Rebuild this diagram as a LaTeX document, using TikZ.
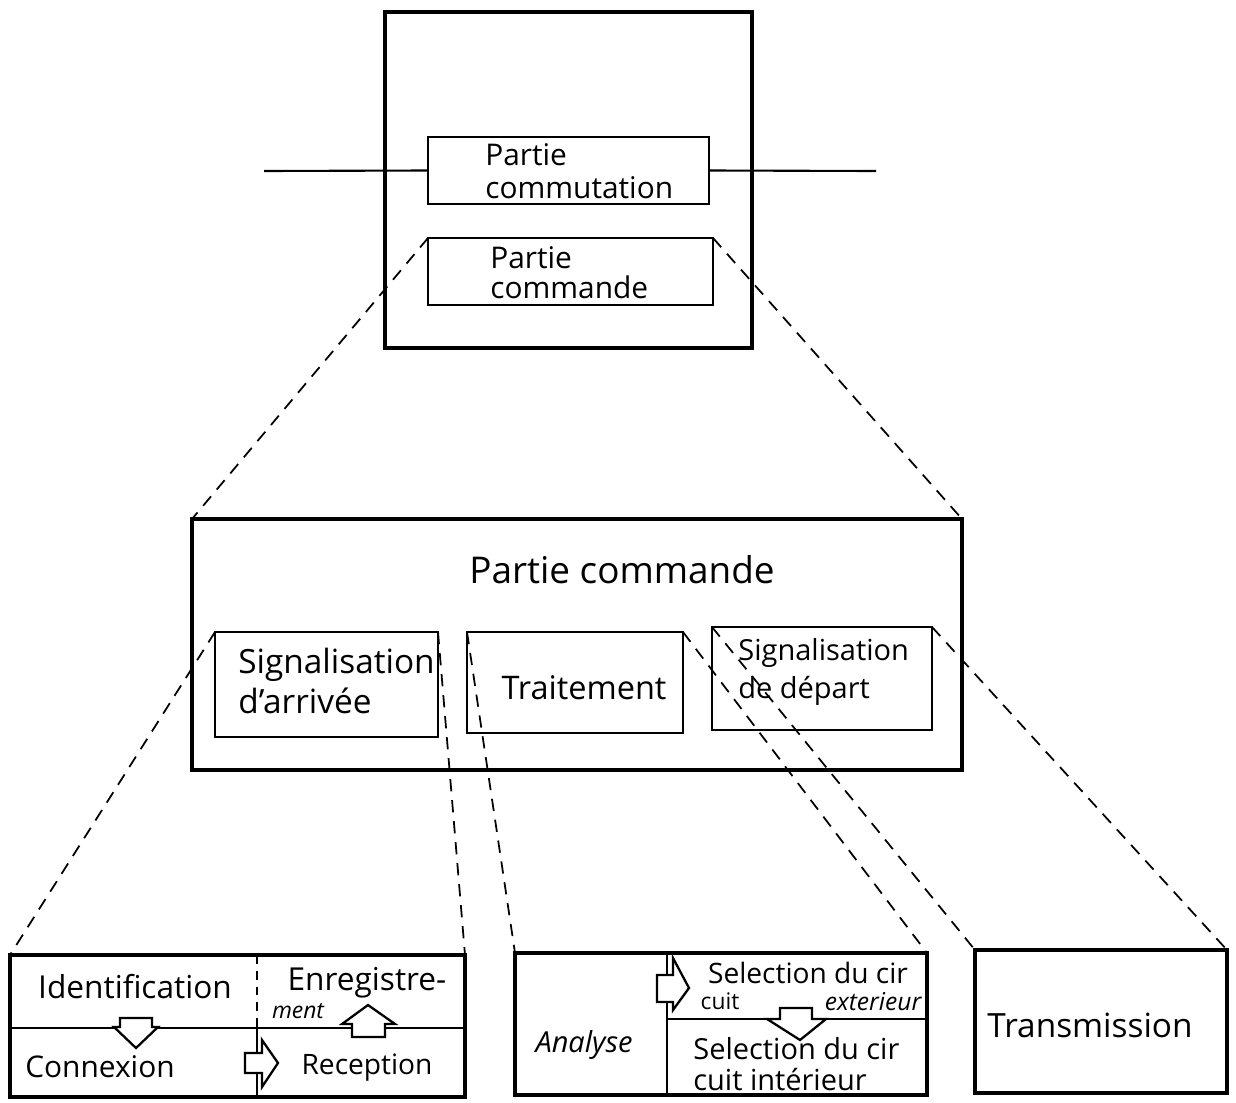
\documentclass[tikz,border=0pt]{standalone}
\usepackage{fontspec}
\setmainfont{Open Sans}
\usetikzlibrary{fit}
\begin{document}
\begin{tikzpicture}[x=0.02cm, y=-0.02cm,
  bigbox/.style={draw, line width=1.8pt, inner sep=0pt, outer sep=0pt},
  smallbox/.style={draw, line width=1.3pt, inner sep=0pt, outer sep=0pt},
  divider/.style={line width=1.3pt},
  dashdiv/.style={line width=1.1pt, dashed, dash pattern=on 5pt off 4pt},
  dashline/.style={line width=1pt, dashed, dash pattern=on 7pt off 5pt},
  wire/.style={line width=1.2pt},
  blockarrow/.style={draw, fill=white, line width=1.3pt, line join=miter},
  lbl/.style={inner sep=0pt, align=left}
]
\useasboundingbox (0,0) rectangle (1236,1102);
\fill[white] (0,0) rectangle (1236,1102);

% ---------- top ----------
\node[bigbox, fit={(385,12) (752,348)}] (top) {};
\node[smallbox, fit={(428,137) (709,204)}] (comm) {};
\node[smallbox, fit={(428,238) (713,305)}] (cmd) {};
\node[lbl, anchor=west, font=\fontsize{17}{19}\selectfont] (commtxt) at (485,171) {Partie\\commutation};
\node[lbl, anchor=west, font=\fontsize{17}{17}\selectfont] (cmdtxt) at (490,273) {Partie\\commande};
\coordinate (inL) at (264,171);
\coordinate (outR) at (876,171);
\draw[wire] (inL) -- (comm.west);
\draw[wire] (comm.east) -- (outR);

% ---------- middle ----------
\node[bigbox, fit={(192,519) (962,770)}] (big) {};
\node[lbl, font=\fontsize{21}{24}\selectfont] (bigtitle) at (622,570) {Partie commande};
\node[smallbox, fit={(215,632) (438,737)}] (sa) {};
\node[lbl, anchor=west, font=\fontsize{19}{23}\selectfont] (satxt) at (238,681) {Signalisation\\d'arrivée};
\node[smallbox, fit={(467,632) (683,733)}] (tr) {};
\node[lbl, font=\fontsize{18.5}{21}\selectfont] (trtxt) at (584,688) {Traitement};
\node[smallbox, fit={(712,627) (932,730)}] (sd) {};
\node[lbl, anchor=west, font=\fontsize{16.5}{21.5}\selectfont] (sdtxt) at (738,672) {Signalisation\\de départ};

% ---------- bottom left ----------
\node[bigbox, fit={(10,955) (465,1097)}] (bl) {};
\draw[divider] (10,1028) -- (465,1028);
\draw[dashdiv] (257,955) -- (257,1028);
\draw[divider] (257,1028) -- (257,1097);
\node[lbl, font=\fontsize{18}{20}\selectfont] (ident) at (135,987) {Identification};
\node[lbl, font=\fontsize{18}{20}\selectfont] (enreg) at (367,983) {Enregistre-};
\node[lbl, font=\fontsize{13}{15}\selectfont\itshape] (ment) at (298,1011) {ment};
\node[lbl, font=\fontsize{17}{20}\selectfont] (conn) at (100,1067) {Connexion};
\node[lbl, font=\fontsize{16}{19}\selectfont] (recep) at (367,1068) {Reception};
\draw[blockarrow] (120,1018) -- (152,1018) -- (152,1027) -- (158,1027) -- (136,1048) -- (114,1027) -- (120,1027) -- cycle;
\draw[blockarrow] (368,1005) -- (395,1024) -- (385,1024) -- (385,1037) -- (352,1037) -- (352,1024) -- (342,1024) -- cycle;
\draw[blockarrow] (245,1053) -- (262,1053) -- (262,1040) -- (278,1063) -- (262,1087) -- (262,1073) -- (245,1073) -- cycle;

% ---------- bottom middle ----------
\node[bigbox, fit={(515,953) (927,1095)}] (bm) {};
\draw[divider] (667,953) -- (667,1095);
\draw[divider] (667,1019) -- (927,1019);
\node[lbl, font=\fontsize{16.5}{19}\selectfont\itshape] (analyse) at (584,1045) {Analyse};
\node[lbl, font=\fontsize{16}{18}\selectfont] (selext) at (808,973) {Selection du cir};
\node[lbl, font=\fontsize{13}{15}\selectfont] (cuitext) at (720,1001) {cuit};
\node[lbl, font=\fontsize{14}{16}\selectfont\itshape] (exter) at (873,1002) {exterieur};
\node[lbl, anchor=west, font=\fontsize{16.5}{17.6}\selectfont] (selint) at (693,1064) {Selection du cir\\cuit intérieur};
\draw[blockarrow] (657,975) -- (673,975) -- (673,958) -- (689,988) -- (673,1010) -- (673,1002) -- (657,1002) -- cycle;
\draw[blockarrow] (780,1008) -- (812,1008) -- (812,1019) -- (826,1019) -- (800,1040) -- (767,1019) -- (780,1019) -- cycle;

% ---------- bottom right ----------
\node[bigbox, fit={(975,950) (1227,1093)}] (bt) {};
\node[lbl, font=\fontsize{19}{22}\selectfont] (trans) at (1090,1025) {Transmission};

% ---------- dashed zoom lines ----------
\draw[dashline] (cmd.north west) -- (big.north west);
\draw[dashline] (cmd.north east) -- (big.north east);
\draw[dashline] (sa.north west) -- (bl.north west);
\draw[dashline] (sa.north east) -- (bl.north east);
\draw[dashline] (tr.north west) -- (bm.north west);
\draw[dashline] (tr.north east) -- (bm.north east);
\draw[dashline] (sd.north west) -- (bt.north west);
\draw[dashline] (sd.north east) -- (bt.north east);
\end{tikzpicture}
\end{document}
